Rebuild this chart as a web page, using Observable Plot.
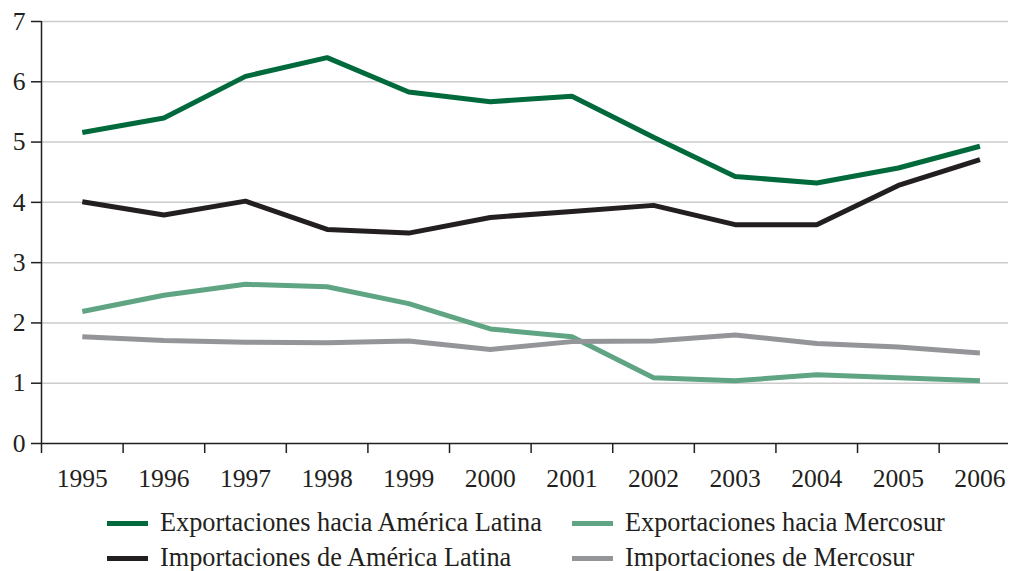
<!DOCTYPE html>
<html>
<head>
<meta charset="utf-8">
<script src="https://cdn.jsdelivr.net/npm/d3@7"></script>
<script src="https://cdn.jsdelivr.net/npm/@observablehq/plot@0.6"></script>
<style>
  html, body { margin: 0; padding: 0; background: #fff; }
  #chart { position: relative; width: 1009px; height: 571px; font-family: "Liberation Serif", "Times New Roman", serif; color: #231f20; }
  #legend { position: absolute; left: 0; top: 500px; width: 1009px; height: 71px; font-size: 26.3px; }
  .item { position: absolute; display: flex; align-items: center; white-space: nowrap; height: 30px; }
  .sw { width: 41px; height: 5px; margin-right: 12px; }
</style>
</head>
<body>
<div id="chart"><div id="plot"></div><div id="legend"></div></div>
<script>
const years = [1995, 1996, 1997, 1998, 1999, 2000, 2001, 2002, 2003, 2004, 2005, 2006];
const seriesNames = [
  "Exportaciones hacia América Latina",
  "Exportaciones hacia Mercosur",
  "Importaciones de América Latina",
  "Importaciones de Mercosur"
];
const seriesColors = ["#006a3c", "#5fa584", "#231f20", "#939598"];
const exportAL = [5.16, 5.40, 6.09, 6.40, 5.83, 5.67, 5.76, 5.08, 4.43, 4.32, 4.57, 4.93];
const exportM  = [2.19, 2.46, 2.64, 2.60, 2.32, 1.90, 1.77, 1.09, 1.04, 1.14, 1.09, 1.04];
const importAL = [4.01, 3.79, 4.02, 3.55, 3.49, 3.75, 3.85, 3.95, 3.63, 3.63, 4.28, 4.71];
const importM  = [1.77, 1.71, 1.68, 1.67, 1.70, 1.56, 1.69, 1.70, 1.80, 1.66, 1.60, 1.50];
const yTicks = [0, 1, 2, 3, 4, 5, 6, 7];
const gridTicks = [1, 2, 3, 4, 5, 6, 7];
const boundaries = [1994.5, 1995.5, 1996.5, 1997.5, 1998.5, 1999.5, 2000.5, 2001.5, 2002.5, 2003.5, 2004.5, 2005.5];

const seriesValues = [exportAL, exportM, importAL, importM];
const data = [];
seriesNames.forEach((name, i) => {
  years.forEach((yr, j) => data.push({series: name, year: yr, value: seriesValues[i][j]}));
});

const plot = Plot.plot({
  width: 1009,
  height: 500,
  marginTop: 21,
  marginBottom: 57,
  marginLeft: 41,
  marginRight: 1,
  style: {fontFamily: "'Liberation Serif', 'Times New Roman', serif", fontSize: "25.6px", color: "#231f20", background: "#fff"},
  x: {domain: [1994.5, 2006.35]},
  y: {domain: [0, 7]},
  color: {domain: seriesNames, range: seriesColors},
  marks: [
    Plot.ruleY(gridTicks, {stroke: "#cccccc", strokeWidth: 1.5}),
    Plot.ruleY([0], {stroke: "#231f20", strokeWidth: 1.5}),
    Plot.ruleX([1994.5], {y1: 0, y2: 7, stroke: "#231f20", strokeWidth: 1.5}),
    Plot.axisY(yTicks, {tickSize: 10, tickPadding: 6, tickFormat: d => String(d), strokeWidth: 1.5, stroke: "#231f20", fill: "#231f20", label: null, fontSize: 25.6}),
    Plot.axisX(boundaries, {tickSize: 10, tickFormat: () => "", strokeWidth: 1.5, stroke: "#231f20", label: null}),
    Plot.axisX(years, {tickSize: 0, tickPadding: 25, tickFormat: d => String(d), fill: "#231f20", label: null, fontSize: 25.6}),
    Plot.line(data, {x: "year", y: "value", z: "series", stroke: "series", strokeWidth: 5, strokeLinejoin: "miter", strokeLinecap: "butt"})
  ]
});
document.getElementById("plot").appendChild(plot);

const legend = document.getElementById("legend");
const positions = [[107, 8], [572, 8], [107, 43], [572, 43]];
seriesNames.forEach((name, i) => {
  const it = document.createElement("div");
  it.className = "item";
  it.style.left = positions[i][0] + "px";
  it.style.top = positions[i][1] + "px";
  const sw = document.createElement("div");
  sw.className = "sw";
  sw.style.background = seriesColors[i];
  const tx = document.createElement("span");
  tx.textContent = name;
  it.appendChild(sw);
  it.appendChild(tx);
  legend.appendChild(it);
});
</script>
</body>
</html>
